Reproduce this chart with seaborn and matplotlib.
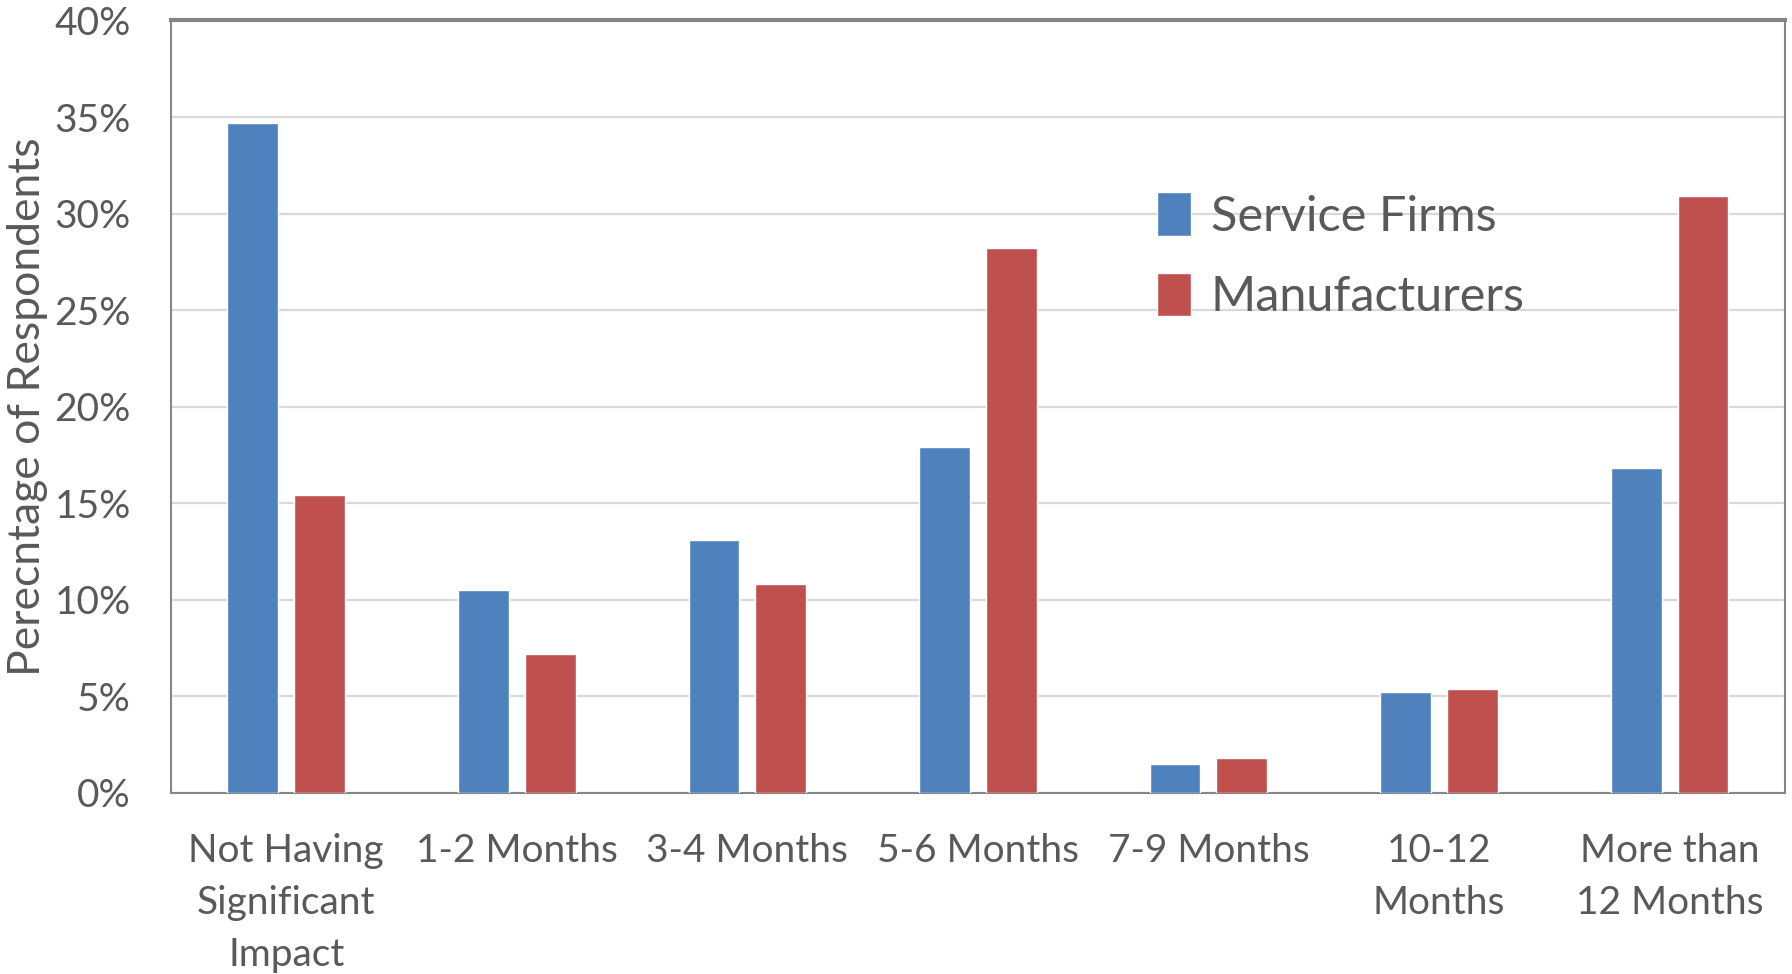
import pandas as pd
import matplotlib
matplotlib.use('Agg')
import matplotlib.pyplot as plt
import seaborn as sns
from matplotlib.ticker import FuncFormatter

periods = ['Not Having\nSignificant\nImpact', '1-2 Months', '3-4 Months', '5-6 Months',
           '7-9 Months', '10-12\nMonths', 'More than\n12 Months']
service_firms = [34.7, 10.5, 13.1, 17.9, 1.5, 5.2, 16.8]
manufacturers = [15.4, 7.2, 10.8, 28.2, 1.8, 5.4, 30.9]
groups = ['Service Firms', 'Manufacturers']
colors = ['#4F81BD', '#C0504D']
yticks = [0, 5, 10, 15, 20, 25, 30, 35, 40]

df = pd.DataFrame({
    'Period': periods * 2,
    'Value': service_firms + manufacturers,
    'Group': [groups[0]] * len(periods) + [groups[1]] * len(periods),
})

sns.set_style('white')
plt.rcParams['font.family'] = ['Lato', 'DejaVu Sans']
text_color = '#595959'

fig = plt.figure(figsize=(17.92, 9.74), dpi=100)
ax = fig.add_axes([0.0954, 0.186, 0.9006, 0.793])

sns.barplot(data=df, x='Period', y='Value', hue='Group', palette=colors, saturation=1,
            width=0.58, gap=0.24, errorbar=None, ax=ax, zorder=3)

ax.set_ylim(0, 40)
ax.set_xlim(-0.5, len(periods) - 0.5)
ax.set_yticks(yticks)
ax.yaxis.set_major_formatter(FuncFormatter(lambda v, p: f'{v:.0f}%'))
ax.grid(axis='y', color='#d9d9d9', lw=1.6, zorder=0)
ax.set_axisbelow(True)

for side in ['left', 'right', 'bottom']:
    ax.spines[side].set_color('#868686')
    ax.spines[side].set_linewidth(1.5)
ax.spines['top'].set_color('#868686')
ax.spines['top'].set_linewidth(3)

ax.tick_params(axis='y', length=0, pad=29, labelsize=28, labelcolor=text_color)
ax.tick_params(axis='x', length=0, pad=29, labelsize=28, labelcolor=text_color)
for lbl in ax.get_xticklabels():
    lbl.set_linespacing(1.55)

ax.set_xlabel('')
ax.set_ylabel('Perecntage of Respondents', fontsize=32, color=text_color)
ax.yaxis.set_label_coords(-0.076, 0.5)

leg = ax.legend(loc='upper left', bbox_to_anchor=(0.584, 0.834), frameon=False,
                fontsize=35, labelcolor=text_color, handlelength=0.7, handleheight=1.0,
                handletextpad=0.4, labelspacing=0.7)

fig.savefig('out.png', dpi=100)
